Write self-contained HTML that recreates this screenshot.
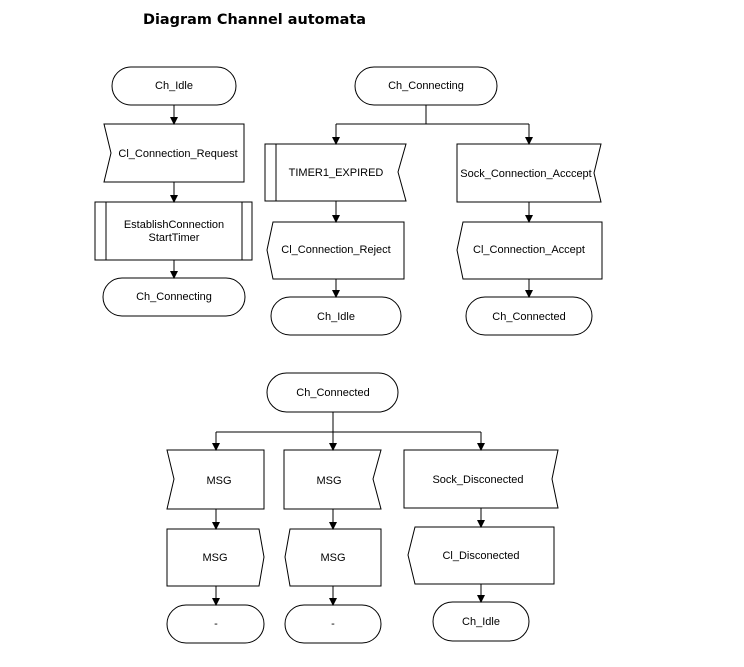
<!DOCTYPE html>
<html><head><meta charset="utf-8"><style>
html,body{margin:0;padding:0;background:#fff;}
svg{display:block;}
text{font-family:"Liberation Sans",Arial,sans-serif;font-size:11px;fill:#000;}
</style></head><body>
<svg width="744" height="667" viewBox="0 0 744 667" xmlns="http://www.w3.org/2000/svg">
<defs><marker id="a" markerWidth="8" markerHeight="8" refX="7" refY="4" orient="auto" markerUnits="userSpaceOnUse"><path d="M0,0 L8,4 L0,8 z" fill="#000"/></marker></defs>
<text x="143" y="24" style="font-family:'DejaVu Sans',sans-serif;font-size:14.5px;font-weight:bold" textLength="223" lengthAdjust="spacingAndGlyphs">Diagram Channel automata</text>
<g fill="none" stroke="#000" stroke-width="1">
<rect x="112" y="67" width="124" height="38" rx="19"/>
<path d="M104,124 H244 V182 H104 L111,153 Z"/>
<rect x="95" y="202" width="157" height="58"/><path d="M106,202 V260 M242,202 V260"/>
<rect x="103" y="278" width="142" height="38" rx="19"/>
<path d="M174,105 V124" marker-end="url(#a)"/>
<path d="M174,182 V202" marker-end="url(#a)"/>
<path d="M174,260 V278" marker-end="url(#a)"/>
<rect x="355" y="67" width="142" height="38" rx="19"/>
<path d="M426,105 V124 M336,124 H529"/>
<path d="M336,124 V144" marker-end="url(#a)"/>
<path d="M529,124 V144" marker-end="url(#a)"/>
<path d="M265,144 H406 L398,172 L406,201 H265 Z M276,144 V201"/>
<path d="M273,222 H404 V279 H273 L267,250 Z"/>
<rect x="271" y="297" width="130" height="38" rx="19"/>
<path d="M336,201 V222" marker-end="url(#a)"/>
<path d="M336,279 V297" marker-end="url(#a)"/>
<path d="M457,144 H601 L594,173 L601,202 H457 Z"/>
<path d="M463,222 H602 V279 H463 L457,250 Z"/>
<rect x="466" y="297" width="126" height="38" rx="19"/>
<path d="M529,202 V222" marker-end="url(#a)"/>
<path d="M529,279 V297" marker-end="url(#a)"/>
<rect x="267" y="373" width="131" height="39" rx="19.5"/>
<path d="M333,412 V432 M216,432 H481"/>
<path d="M216,432 V450" marker-end="url(#a)"/>
<path d="M333,432 V450" marker-end="url(#a)"/>
<path d="M481,432 V450" marker-end="url(#a)"/>
<path d="M167,450 H264 V509 H167 L174,479 Z"/>
<path d="M284,450 H381 L373,479 L381,509 H284 Z"/>
<path d="M404,450 H558 L552,479 L558,508 H404 Z"/>
<path d="M167,529 H259 L264,557 L259,586 H167 Z"/>
<path d="M290,529 H381 V586 H290 L285,557 Z"/>
<path d="M415,527 H554 V584 H415 L408,555 Z"/>
<rect x="167" y="605" width="97" height="38" rx="19"/>
<rect x="285" y="605" width="96" height="38" rx="19"/>
<rect x="433" y="602" width="96" height="39" rx="19.5"/>
<path d="M216,509 V529" marker-end="url(#a)"/>
<path d="M333,509 V529" marker-end="url(#a)"/>
<path d="M481,508 V527" marker-end="url(#a)"/>
<path d="M216,586 V605" marker-end="url(#a)"/>
<path d="M333,586 V605" marker-end="url(#a)"/>
<path d="M481,584 V602" marker-end="url(#a)"/>
</g>
<g text-anchor="middle">
<text x="174" y="89">Ch_Idle</text>
<text x="178" y="157">Cl_Connection_Request</text>
<text x="174" y="228">EstablishConnection</text>
<text x="174" y="241">StartTimer</text>
<text x="174" y="300">Ch_Connecting</text>
<text x="426" y="89">Ch_Connecting</text>
<text x="336" y="176">TIMER1_EXPIRED</text>
<text x="336" y="253">Cl_Connection_Reject</text>
<text x="336" y="320">Ch_Idle</text>
<text x="526" y="177">Sock_Connection_Acccept</text>
<text x="529" y="253">Cl_Connection_Accept</text>
<text x="529" y="320">Ch_Connected</text>
<text x="333" y="396">Ch_Connected</text>
<text x="219" y="484">MSG</text>
<text x="329" y="484">MSG</text>
<text x="478" y="483">Sock_Disconected</text>
<text x="215" y="561">MSG</text>
<text x="333" y="561">MSG</text>
<text x="481" y="559">Cl_Disconected</text>
<text x="216" y="627">-</text>
<text x="333" y="627">-</text>
<text x="481" y="625">Ch_Idle</text>
</g>
</svg>
</body></html>
